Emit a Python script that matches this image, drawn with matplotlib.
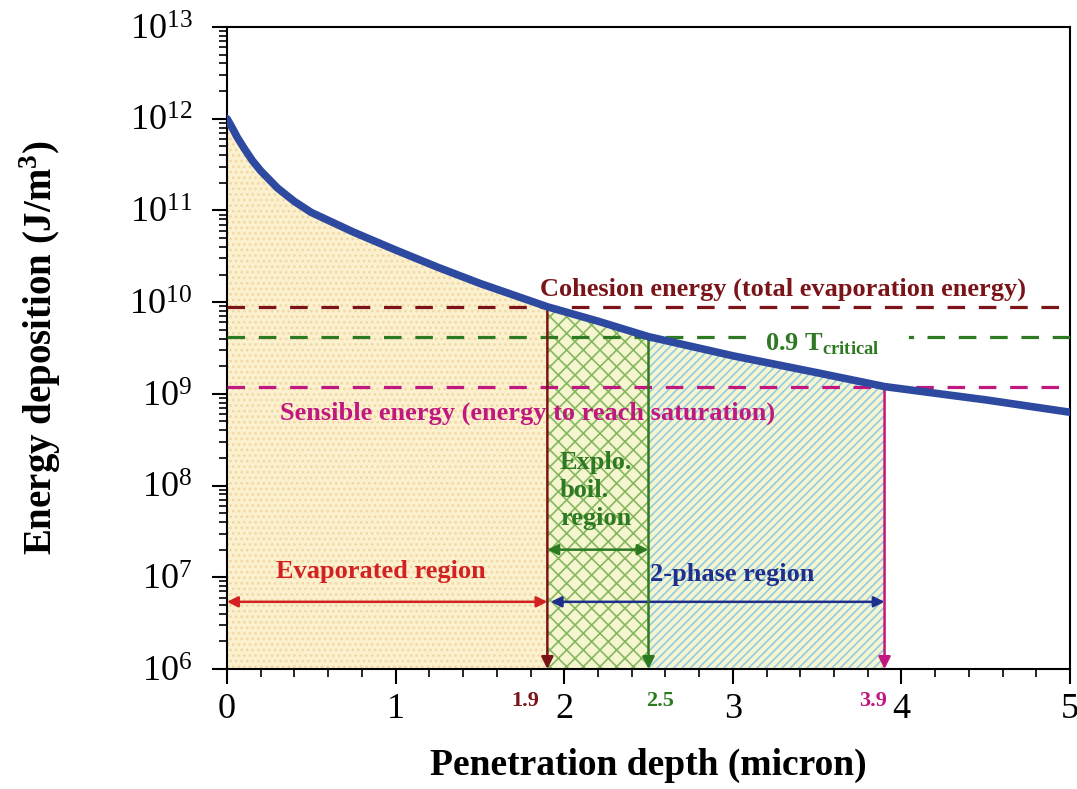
import numpy as np
import matplotlib
matplotlib.use("Agg")
import matplotlib.pyplot as plt
from matplotlib.ticker import LogLocator, MultipleLocator, NullFormatter
import matplotlib.transforms as mtransforms

plt.rcParams['font.family'] = ['Liberation Serif', 'DejaVu Serif']
plt.rcParams['mathtext.fontset'] = 'custom'
plt.rcParams['mathtext.rm'] = 'Liberation Serif'
plt.rcParams['mathtext.bf'] = 'Liberation Serif:bold'
plt.rcParams['hatch.linewidth'] = 1.2

# energy deposition curve
depth = [0.0, 0.03, 0.06, 0.1, 0.15, 0.2, 0.3, 0.4, 0.5, 0.75, 1.0, 1.25, 1.5,
         1.9, 2.2, 2.5, 3.0, 3.5, 3.9, 4.5, 5.0]
energy = [1.0e12, 8.0e11, 6.3e11, 4.8e11, 3.5e11, 2.7e11, 1.75e11, 1.25e11, 9.5e10,
          5.8e10, 3.7e10, 2.4e10, 1.6e10, 8.9e9, 6.2e9, 4.2e9, 2.6e9, 1.7e9,
          1.2e9, 8.6e8, 6.3e8]

# threshold levels
cohesion = 8.9e9
tcrit = 4.2e9
sensible = 1.2e9
x_evap, x_boil, x_2ph = 1.9, 2.5, 3.9

c_red = '#7a1418'
c_green = '#2e7a22'
c_mag = '#c0187f'
c_blue = '#2e4aa0'
c_evap = '#d32020'
c_2ph = '#1f2f8c'

fig = plt.figure(figsize=(10.77, 7.89), dpi=100)
ax = fig.add_axes([0.2108, 0.1521, 0.7827, 0.8137])

x = np.array(depth)
y = np.array(energy)
bottom = 1e6

# filled regions under the curve
m1 = x <= x_evap
m2 = (x >= x_evap) & (x <= x_boil)
m3 = (x >= x_boil) & (x <= x_2ph)
ax.fill_between(x[m1], y[m1], bottom, facecolor='#fcf1cf', linewidth=0, zorder=1)
ax.fill_between(x[m1], y[m1], bottom, facecolor='none', edgecolor='#f2d8a6',
                hatch='...', linewidth=0, zorder=1.1)
ax.fill_between(x[m2], y[m2], bottom, facecolor='#f5f6d0', linewidth=0, zorder=1)
ax.fill_between(x[m2], y[m2], bottom, facecolor='none', edgecolor='#86b860',
                hatch='xx', linewidth=0, zorder=1.1)
ax.fill_between(x[m3], y[m3], bottom, facecolor='#f5f6d0', linewidth=0, zorder=1)
ax.fill_between(x[m3], y[m3], bottom, facecolor='none', edgecolor='#94cae4',
                hatch='////', linewidth=0, zorder=1.1)

# horizontal threshold lines
ax.plot([0, 5], [cohesion, cohesion], color=c_red, lw=2.3, dashes=(5.5, 4.3), zorder=3)
ax.plot([0, 3.15], [tcrit, tcrit], color=c_green, lw=2.3, dashes=(5.5, 4.3), zorder=3)
ax.plot([4.05, 4.065], [tcrit, tcrit], color=c_green, lw=2.3, zorder=3)
ax.plot([4.15, 5], [tcrit, tcrit], color=c_green, lw=2.3, dashes=(5.5, 4.3), zorder=3)
ax.plot([0, 5], [sensible, sensible], color=c_mag, lw=2.3, dashes=(5.5, 4.3), zorder=3)

# curve
ax.plot(x, y, color=c_blue, lw=5.5, solid_capstyle='round', zorder=5)

# vertical drop lines with arrow heads
for xv, yv, col in [(x_evap, cohesion, c_red), (x_boil, tcrit, c_green), (x_2ph, sensible, c_mag)]:
    ax.annotate('', xy=(xv, bottom), xytext=(xv, yv),
                arrowprops=dict(arrowstyle='-|>', color=col, lw=1.8,
                                mutation_scale=18, shrinkA=0, shrinkB=0), zorder=4)

# region arrows
ax.annotate('', xy=(0, 5.4e6), xytext=(x_evap, 5.4e6),
            arrowprops=dict(arrowstyle='<|-|>', color=c_evap, lw=1.8,
                            mutation_scale=16, shrinkA=0, shrinkB=0))
ax.annotate('', xy=(x_evap + 0.02, 5.4e6), xytext=(x_2ph, 5.4e6),
            arrowprops=dict(arrowstyle='<|-|>', color=c_2ph, lw=1.8,
                            mutation_scale=16, shrinkA=0, shrinkB=0))
ax.annotate('', xy=(x_evap, 2.0e7), xytext=(x_boil, 2.0e7),
            arrowprops=dict(arrowstyle='<|-|>', color=c_green, lw=1.8,
                            mutation_scale=16, shrinkA=0, shrinkB=0))

# texts
tk = dict(fontweight='bold', fontsize=19)
ax.text(3.3, 1.38e10, 'Cohesion energy (total evaporation energy)', color=c_red,
        ha='center', va='center', **tk)
ax.text(3.19, 3.5e9, r'0.9 T$_{\mathbf{critical}}$', color=c_green, ha='left',
        va='center', **tk)
ax.text(1.78, 6.2e8, 'Sensible energy (energy to reach saturation)', color=c_mag,
        ha='center', va='center', **tk)
ax.text(0.91, 1.15e7, 'Evaporated region', color=c_evap, ha='center', va='center', **tk)
ax.text(1.975, 2.4e8, 'Explo.\nboil.\nregion', color=c_green, ha='left', va='top',
        linespacing=1.3, **tk)
ax.text(2.51, 1.07e7, '2-phase region', color=c_2ph, ha='left', va='center', **tk)

trans = mtransforms.blended_transform_factory(ax.transData, ax.transAxes)
for xv, lab, col in [(1.77, '1.9', c_red), (2.57, '2.5', c_green), (3.83, '3.9', c_mag)]:
    ax.text(xv, -0.05, lab, color=col, transform=trans, ha='center', va='center',
            fontsize=16, fontweight='bold')

# axes
ax.set_yscale('log')
ax.set_xlim(0, 5)
ax.set_ylim(1e6, 1e13)
ax.xaxis.set_major_locator(MultipleLocator(1))
ax.xaxis.set_minor_locator(MultipleLocator(0.2))
ax.yaxis.set_major_locator(LogLocator(base=10, numticks=20))
ax.yaxis.set_minor_locator(LogLocator(base=10, subs=np.arange(2, 10), numticks=20))
ax.yaxis.set_minor_formatter(NullFormatter())
ax.tick_params(which='major', direction='out', length=11, width=1.5, labelsize=26)
ax.tick_params(which='minor', direction='out', length=6, width=1.2)
ax.tick_params(axis='x', which='major', pad=6)
ax.tick_params(axis='y', which='major', pad=14)
for s in ax.spines.values():
    s.set_linewidth(1.5)

ax.set_xlabel('Penetration depth (micron)', fontsize=27, fontweight='bold', labelpad=16)
ax.set_ylabel(r'Energy deposition (J/m$^{\mathbf{3}}$)', fontsize=28,
              fontweight='bold', labelpad=48)

fig.savefig('out.png', dpi=100)
